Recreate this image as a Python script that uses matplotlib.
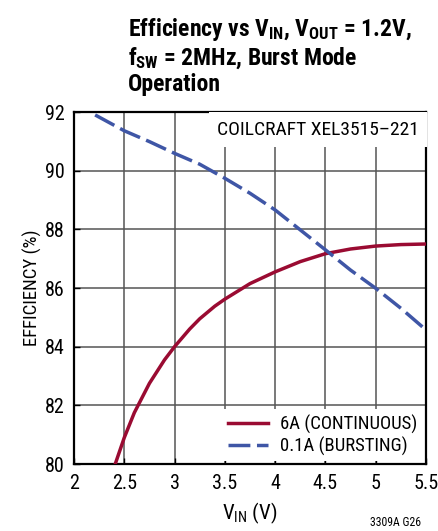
import matplotlib.pyplot as plt

plt.rcParams["font.family"] = ["Roboto Condensed", "DejaVu Sans"]
plt.rcParams["mathtext.fontset"] = "custom"
plt.rcParams["mathtext.rm"] = "Roboto Condensed"
plt.rcParams["mathtext.bf"] = "Roboto Condensed:bold"
plt.rcParams["mathtext.it"] = "Roboto Condensed"

# 6A continuous
vin_6a = [2.41, 2.5, 2.6, 2.75, 2.9, 3.0, 3.15, 3.25, 3.4, 3.5, 3.75, 4.0,
          4.25, 4.5, 4.75, 5.0, 5.25, 5.5]
eff_6a = [80.0, 80.9, 81.75, 82.75, 83.55, 84.0, 84.6, 84.95, 85.38, 85.62, 86.15, 86.55,
          86.9, 87.17, 87.33, 87.43, 87.48, 87.5]

# 0.1A bursting
vin_01a = [2.21, 2.5, 2.75, 3.0, 3.25, 3.5, 3.75, 4.0, 4.25, 4.5, 4.75, 5.0, 5.25, 5.5]
eff_01a = [91.9, 91.36, 90.99, 90.59, 90.22, 89.74, 89.23, 88.66, 87.98, 87.3, 86.61, 85.99, 85.31, 84.57]

xticks = [2, 2.5, 3, 3.5, 4, 4.5, 5, 5.5]
xticklabels = ["2", "2.5", "3", "3.5", "4", "4.5", "5", "5.5"]
yticks = [80, 82, 84, 86, 88, 90, 92]

red = "#9a0b32"
blue = "#3f56a6"

fig = plt.figure(figsize=(4.38, 5.31), dpi=100)
ax = fig.add_axes([74 / 438, 1 - 464 / 531, 352 / 438, 352 / 531])

ax.plot(vin_6a, eff_6a, color=red, lw=2.5, label="6A (CONTINUOUS)", zorder=3)
ax.plot(vin_01a, eff_01a, color=blue, lw=2.5, dashes=(6.3, 1.9),
        label="0.1A (BURSTING)", zorder=3)

ax.set_xlim(2, 5.5)
ax.set_ylim(80, 92)
ax.set_xticks(xticks)
ax.set_xticklabels(xticklabels)
ax.set_yticks(yticks)
ax.grid(True, color="#555555", lw=1.1)
ax.tick_params(direction="in", length=4, width=1, labelsize=14.5, pad=7, colors="black")
for s in ax.spines.values():
    s.set_linewidth(1.6)

ax.text(5.43, 91.4, "COILCRAFT XEL3515\u2013221", ha="right", va="center",
        fontsize=14, zorder=4,
        bbox=dict(facecolor="white", edgecolor="none", pad=6))

leg = ax.legend(loc="lower right", fontsize=13.5, frameon=True, fancybox=False,
                edgecolor="none", framealpha=1, handlelength=2.15,
                borderpad=0.3, labelspacing=0.12, handletextpad=0.65,
                borderaxespad=0.15)
leg.set_zorder(5)

ax.set_ylabel("EFFICIENCY (%)", fontsize=13.5, labelpad=2)
ax.set_xlabel(r"V$_{\mathrm{IN}}$ (V)", fontsize=15, labelpad=6)

fig.text(128 / 438, 1 - 16 / 531,
         r"Efficiency vs V$_{\mathbf{IN}}$, V$_{\mathbf{OUT}}$ = 1.2V," "\n"
         r"f$_{\mathbf{SW}}$ = 2MHz, Burst Mode" "\n"
         "Operation",
         ha="left", va="top", fontsize=17, fontweight="bold", linespacing=1.12)

fig.text(421 / 438, 1 - 522 / 531, "3309A G26", ha="right", va="center", fontsize=8.5)

fig.savefig("out.png", dpi=100)
